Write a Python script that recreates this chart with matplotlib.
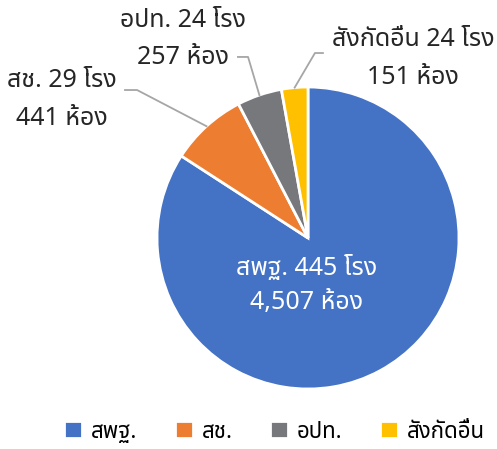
import matplotlib
matplotlib.use("Agg")
import numpy as np
import matplotlib.pyplot as plt

plt.rcParams['font.family'] = ['Noto Sans Thai', 'DejaVu Sans']

# ข้อมูล
categories = ["สพฐ.", "สช.", "อปท.", "สังกัดอื่น"]
schools = [445, 29, 24, 24]
rooms = [4507, 441, 257, 151]
colors = ["#4472C4", "#ED7D31", "#77787B", "#FFC000"]

fig = plt.figure(figsize=(4.97, 4.49), dpi=100)
ax = fig.add_axes([157 / 497, 60 / 449, 302 / 497, 302 / 449])

wedges, _ = ax.pie(
    rooms,
    colors=colors,
    startangle=90,
    counterclock=False,
    radius=1,
    wedgeprops=dict(edgecolor="white", linewidth=2),
)
ax.set_xlim(-1, 1)
ax.set_ylim(-1, 1)
ax.set_aspect("equal")

labels = [f"{c} {s} โรง\n{r:,} ห้อง" for c, s, r in zip(categories, schools, rooms)]

# label สพฐ. ข้างในวง
ax.text(-0.01, -0.31, labels[0], ha="center", va="center", color="white",
        fontsize=18, linespacing=1.5)

# label ข้างนอก + เส้นชี้
text_pos = [None, (-1.63, 0.92), (-0.83, 1.318), (0.695, 1.19)]
elbows = [None,
          [(-1.212, 0.98), (-1.132, 0.98)],
          [(-0.464, 1.199), (-0.397, 1.199)],
          [(0.099, 1.225), (0.046, 1.225)]]
for i in range(1, 4):
    w = wedges[i]
    mid = np.deg2rad((w.theta1 + w.theta2) / 2)
    px, py = np.cos(mid), np.sin(mid)
    pts = elbows[i] + [(px, py)]
    ax.plot([p[0] for p in pts], [p[1] for p in pts], color="#A6A6A6",
            linewidth=1.3, clip_on=False)
    ax.text(text_pos[i][0], text_pos[i][1], labels[i], ha="center", va="center",
            fontsize=18, linespacing=1.68, color="#262626", clip_on=False)

fig.legend(wedges, categories, loc="center left", ncol=4, frameon=False,
           fontsize=16, handlelength=0.8, handleheight=0.8, handletextpad=0.4,
           columnspacing=1.7, borderpad=0, borderaxespad=0,
           bbox_to_anchor=(64 / 497, 17 / 449))

fig.savefig("out.png")
